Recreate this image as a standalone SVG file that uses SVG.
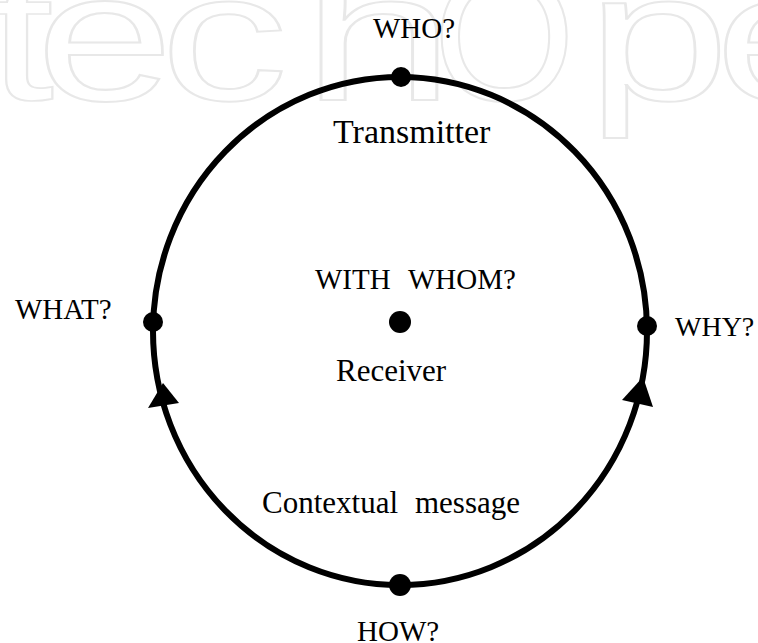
<svg xmlns="http://www.w3.org/2000/svg" width="758" height="643" viewBox="0 0 758 643">
<style>
.wm{font-family:"Liberation Sans",Arial,sans-serif;font-size:183px;fill:none;stroke:#e8e8e8;stroke-width:2}
.lbl{font-family:"Liberation Serif","Times New Roman",serif;fill:#000}
.dot{fill:#000}
.ring{fill:none;stroke:#000;stroke-width:6}
.head{fill:#000}
</style>
<rect width="758" height="643" fill="#fff"/>
<g id="watermark">
<text class="wm" transform="translate(-12,100) scale(1.3,1)" vector-effect="non-scaling-stroke">t</text>
<text class="wm" transform="translate(36,100) scale(1.35,1)">e</text>
<text class="wm" transform="translate(160,100) scale(1.4,1)">c</text>
<text class="wm" transform="translate(302,100) scale(1.5,1)">h</text>
<text class="wm" transform="translate(433,100)">O</text>
<text class="wm" transform="translate(587,100) scale(1.4,1)">p</text>
<text class="wm" transform="translate(715,100) scale(1.35,1)">e</text>
</g>
<g id="connectors">
<ellipse class="ring" cx="400" cy="331" rx="247" ry="254"/>
<polygon class="head" points="163,383 148,408 179,403"/>
<polygon class="head" points="643,377 622,400 653,407"/>
</g>
<g id="node-who">
<circle class="dot" cx="401" cy="77" r="10"/>
<text class="lbl" x="373" y="38" font-size="29">WHO?</text>
</g>
<g id="node-transmitter">
<text class="lbl" x="333" y="143" font-size="34">Transmitter</text>
</g>
<g id="node-what">
<circle class="dot" cx="153" cy="322" r="10"/>
<text class="lbl" x="15" y="319" font-size="29">WHAT?</text>
</g>
<g id="node-why">
<circle class="dot" cx="647" cy="326" r="10"/>
<text class="lbl" x="675" y="336" font-size="28">WHY?</text>
</g>
<g id="node-center">
<circle class="dot" cx="400" cy="322" r="11"/>
<text class="lbl" x="315" y="289" font-size="29">WITH</text>
<text class="lbl" x="408" y="289" font-size="29">WHOM?</text>
<text class="lbl" x="336" y="381" font-size="31">Receiver</text>
</g>
<g id="node-message">
<text class="lbl" x="262" y="513" font-size="31">Contextual</text>
<text class="lbl" x="415" y="513" font-size="31">message</text>
</g>
<g id="node-how">
<circle class="dot" cx="400" cy="585" r="11"/>
<text class="lbl" x="357" y="641" font-size="29">HOW?</text>
</g>
</svg>
